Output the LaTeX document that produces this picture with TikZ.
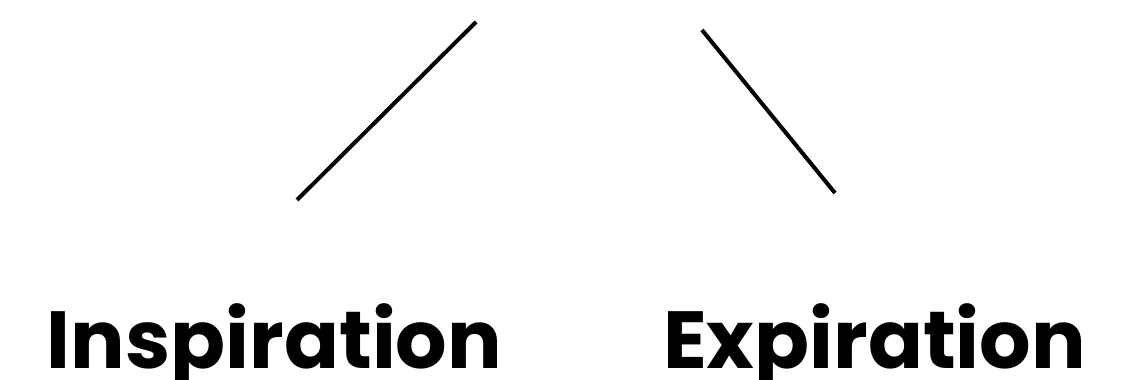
\documentclass[tikz,border=0pt]{standalone}
\usepackage{fontspec}
\setmainfont{Poppins}[BoldFont={* Bold}]
\begin{document}
\begin{tikzpicture}[x=1pt,y=1pt,
  lbl/.style={inner sep=0pt, anchor=base, font=\fontsize{81}{90}\selectfont\bfseries},
  stroke/.style={line width=4pt, line cap=butt}]
\useasboundingbox (0,0) rectangle (1122,380);
\coordinate (a1) at (297,180);
\coordinate (a2) at (476,358);
\coordinate (b1) at (702,350);
\coordinate (b2) at (835,187);
\draw[stroke] (a1) -- (a2);
\draw[stroke] (b1) -- (b2);
\node[lbl] (insp) at (274.5,11) {Inspiration};
\node[lbl] (exp) at (874.5,11) {Expiration};
\end{tikzpicture}
\end{document}
